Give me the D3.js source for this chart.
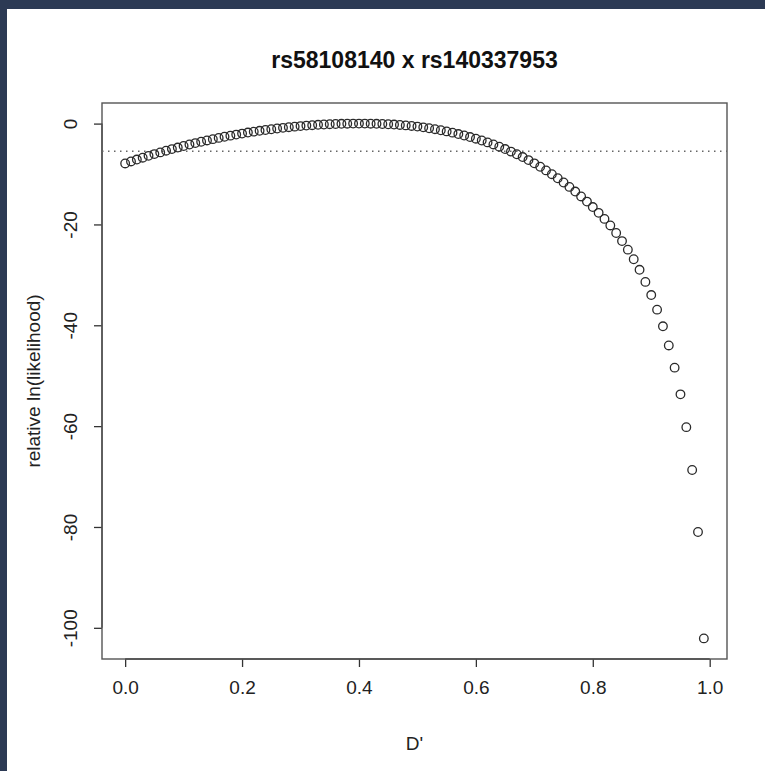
<!DOCTYPE html>
<html>
<head>
<meta charset="utf-8">
<script src="https://cdn.jsdelivr.net/npm/d3@7"></script>
<style>
  body { margin: 0; background: #2c3a54; }
  #main { position: absolute; left: 7px; top: 9px; width: 758px; height: 762px; background: #fff; }
  svg { display: block; font-family: "Liberation Sans", Arial, Helvetica, sans-serif; }
</style>
</head>
<body>
<div id="main"></div>
<script>
const title = "rs58108140 x rs140337953";
const xLabel = "D'";
const yLabel = "relative ln(likelihood)";
const xTicks = [0, 0.2, 0.4, 0.6, 0.8, 1.0];
const yTicks = [0, -20, -40, -60, -80, -100];
const cutoff = -5.5;

// D' values 0.00 .. 0.99
const dprime = d3.range(100).map(i => i / 100);
const lnLik = [
  -7.90, -7.51, -7.13, -6.76, -6.40, -6.05, -5.71, -5.38, -5.06, -4.75,
  -4.44, -4.15, -3.87, -3.60, -3.34, -3.09, -2.84, -2.61, -2.39, -2.18,
  -1.98, -1.78, -1.60, -1.43, -1.27, -1.12, -0.97, -0.84, -0.72, -0.61,
  -0.50, -0.40, -0.32, -0.24, -0.18, -0.12, -0.08, -0.04, -0.02, -0.005,
  0.00, -0.005, -0.02, -0.045, -0.08, -0.13, -0.19, -0.27, -0.36, -0.47,
  -0.60, -0.75, -0.92, -1.11, -1.32, -1.55, -1.80, -2.07, -2.36, -2.67,
  -3.00, -3.35, -3.73, -4.14, -4.58, -5.05, -5.55, -6.08, -6.64, -7.24,
  -7.88, -8.56, -9.28, -10.04, -10.84, -11.68, -12.56, -13.48, -14.45, -15.47,
  -16.55, -17.7, -18.9, -20.2, -21.7, -23.3, -25.0, -26.9, -29.0, -31.4,
  -34.0, -36.9, -40.2, -44.0, -48.4, -53.7, -60.2, -68.7, -81.0, -102.1
];

class LikPlot {
  constructor(config) {
    this.config = config;
    this.points = dprime.map((d, i) => ({x: d, y: lnLik[i]}));
    this.createSvg();
    this.createScales();
  }

  createSvg() {
    this.svg = d3.select(this.config.div)
      .append("svg")
      .attr("width", this.config.w)
      .attr("height", this.config.h);
    this.plot = this.svg.append("g")
      .attr("transform", `translate(${this.config.left},${this.config.top})`);
  }

  // R style: data range stretched by 4% on each side
  rExtent(vals) {
    let [lo, hi] = d3.extent(vals);
    let pad = (hi - lo) * 0.04;
    return [lo - pad, hi + pad];
  }

  createScales() {
    let c = this.config;
    this.xScale = d3.scaleLinear().domain(this.rExtent(dprime)).range([0, c.width]);
    this.yScale = d3.scaleLinear().domain(this.rExtent(lnLik)).range([c.height, 0]);
  }

  createAxis() {
    let c = this.config;
    let xAxis = d3.axisBottom(this.xScale).tickValues(xTicks)
      .tickFormat(d3.format(".1f")).tickSize(8).tickPadding(14);
    let yAxis = d3.axisLeft(this.yScale).tickValues(yTicks)
      .tickFormat(d => d).tickSize(8).tickPadding(0);

    let gx = this.plot.append("g")
      .attr("transform", `translate(0,${c.height})`)
      .call(xAxis);
    let gy = this.plot.append("g").call(yAxis);

    [gx, gy].forEach(g => {
      g.select(".domain").remove();
      g.selectAll(".tick line").attr("stroke", "#333").attr("stroke-width", 1.3);
      g.selectAll(".tick text").attr("fill", "#222").style("font-size", "19px");
    });
    // axis lines only between first and last tick
    gx.append("line")
      .attr("x1", this.xScale(xTicks[0])).attr("x2", this.xScale(xTicks[xTicks.length - 1]))
      .attr("stroke", "#333").attr("stroke-width", 1.3);
    gy.append("line")
      .attr("y1", this.yScale(yTicks[0])).attr("y2", this.yScale(yTicks[yTicks.length - 1]))
      .attr("stroke", "#333").attr("stroke-width", 1.3);

    gy.selectAll(".tick text")
      .attr("x", null)
      .attr("text-anchor", "middle")
      .attr("transform", "translate(-32,0) rotate(-90)")
      .attr("dy", "0.35em");

    this.plot.append("rect")
      .attr("width", c.width).attr("height", c.height)
      .attr("fill", "none").attr("stroke", "#555").attr("stroke-width", 1.4);
  }

  createLabels() {
    let c = this.config;
    this.plot.append("text")
      .attr("x", c.width / 2).attr("y", -35)
      .attr("text-anchor", "middle")
      .style("font-size", "23px").style("font-weight", "bold")
      .attr("fill", "#111")
      .text(title);
    this.plot.append("text")
      .attr("x", c.width / 2).attr("y", c.height + 91)
      .attr("text-anchor", "middle")
      .style("font-size", "19px").attr("fill", "#222")
      .text(xLabel);
    this.plot.append("text")
      .attr("transform", `translate(-62,${c.height / 2}) rotate(-90)`)
      .attr("text-anchor", "middle")
      .style("font-size", "19px").attr("fill", "#222")
      .text(yLabel);
  }

  createPoints() {
    let c = this.config;
    this.plot.append("line")
      .attr("x1", 0).attr("x2", c.width)
      .attr("y1", this.yScale(cutoff)).attr("y2", this.yScale(cutoff))
      .attr("stroke", "#666").attr("stroke-width", 1.5)
      .attr("stroke-dasharray", "1.5,4.5");

    this.plot.selectAll("circle")
      .data(this.points)
      .join("circle")
      .attr("cx", d => this.xScale(d.x))
      .attr("cy", d => this.yScale(d.y))
      .attr("r", 4.3)
      .attr("fill", "none")
      .attr("stroke", "#2a2a2a")
      .attr("stroke-width", 1.3);
  }
}

let cfg = {div: "#main", w: 758, h: 762, left: 95, top: 94, width: 625, height: 556};
let p = new LikPlot(cfg);
p.createAxis();
p.createLabels();
p.createPoints();
</script>
</body>
</html>
